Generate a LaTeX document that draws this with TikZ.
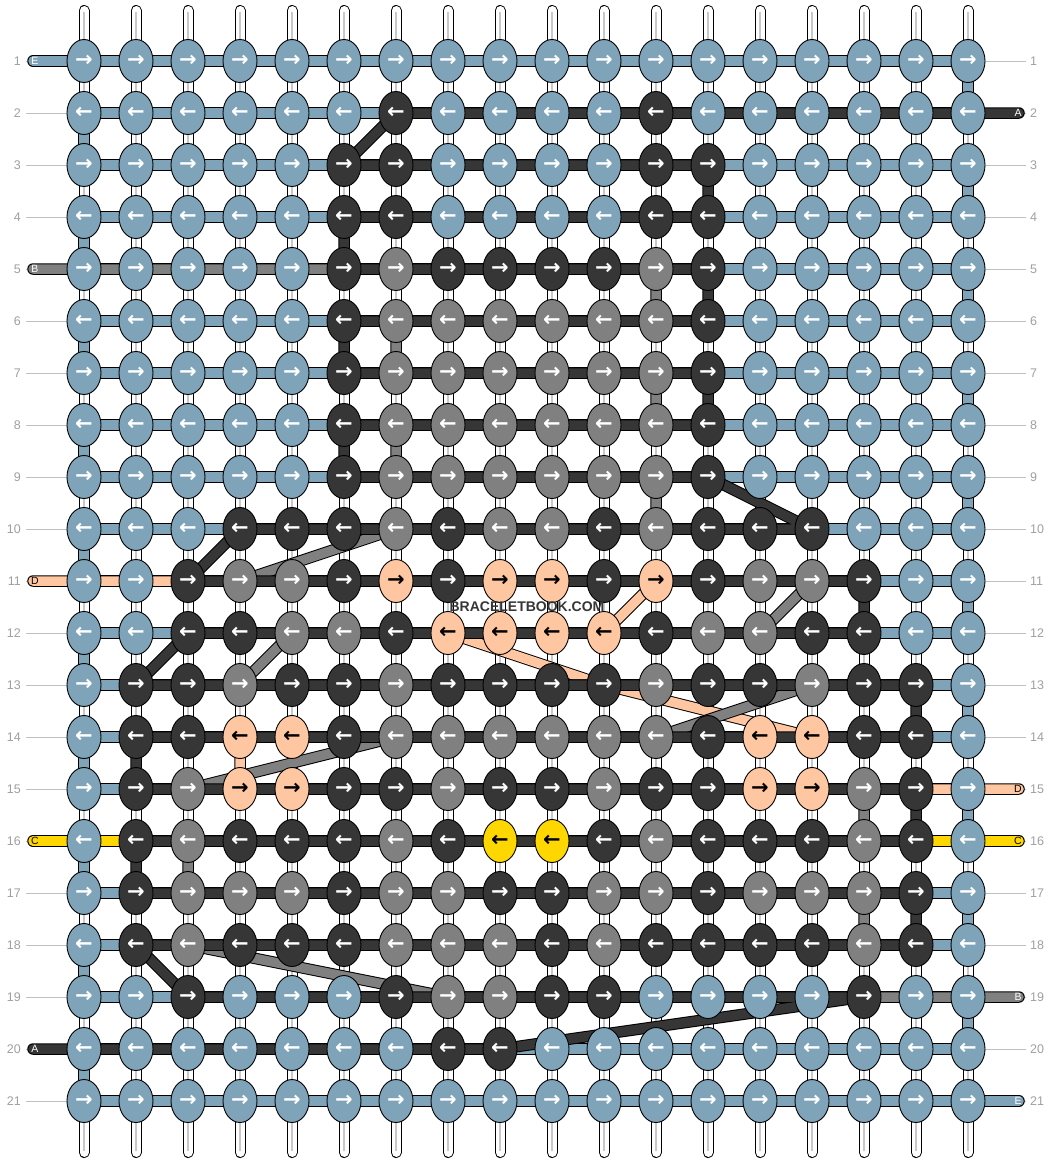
\documentclass[tikz,border=0pt]{standalone}
\usepackage{fontspec}
\setmainfont{Liberation Sans}
\newfontfamily\arrowfont{DejaVu Sans}
\usetikzlibrary{shapes.geometric}
\definecolor{cL}{RGB}{127,163,185}
\definecolor{cD}{RGB}{54,54,54}
\definecolor{cG}{RGB}{128,128,128}
\definecolor{cP}{RGB}{255,199,161}
\definecolor{cY}{RGB}{255,215,0}
\definecolor{cLab}{RGB}{160,160,160}
\definecolor{cGuide}{RGB}{192,192,192}
\definecolor{cStr}{RGB}{200,200,200}
\pgfdeclarelayer{bg}
\pgfdeclarelayer{thr}
\pgfsetlayers{bg,thr,main}
\tikzset{
  knot/.style={ellipse, minimum width=34pt, minimum height=43pt, inner sep=0pt,
    draw=black, line width=0.9pt, font=\arrowfont\bfseries\fontsize{21}{21}\selectfont},
  kL/.style={knot, fill=cL, text=white},
  kD/.style={knot, fill=cD, text=white},
  kG/.style={knot, fill=cG, text=white},
  kP/.style={knot, fill=cP, text=black},
  kY/.style={knot, fill=cY, text=black},
  thread/.style={line width=9.5pt, line join=round, line cap=round,
    preaction={draw=black, line width=11.5pt, line join=round, line cap=round}},
  strand/.style={draw=white, line width=9pt, line cap=round,
    preaction={draw=black, line width=11pt, line cap=round},
    postaction={draw=cStr, line width=1.2pt, line cap=butt, shorten <=2pt, shorten >=2pt}},
  guide/.style={draw=cGuide, line width=0.9pt},
  rowlab/.style={text=cLab, font=\fontsize{12.5}{12.5}\selectfont, inner sep=0pt},
  endlab/.style={font=\fontsize{10.5}{10.5}\selectfont, inner sep=0pt},
  wm/.style={font=\bfseries\fontsize{14}{14}\selectfont, inner sep=0pt}
}
\newcommand\knotrow[3]{%
  \foreach \cc [count=\i] in {#3} {%
    \node[k\cc] (k-#1-\i) at ({84+52*(\i-1)},{61+52*(#1-1)}) {#2};}}
\begin{document}
\begin{tikzpicture}[x=1pt,y=-1pt]
\path[use as bounding box] (0,0) rectangle (1052,1164);

% knots
\knotrow{1}{→}{L,L,L,L,L,L,L,L,L,L,L,L,L,L,L,L,L,L}
\knotrow{2}{←}{L,L,L,L,L,L,D,L,L,L,L,D,L,L,L,L,L,L}
\knotrow{3}{→}{L,L,L,L,L,D,D,L,L,L,L,D,D,L,L,L,L,L}
\knotrow{4}{←}{L,L,L,L,L,D,D,L,L,L,L,D,D,L,L,L,L,L}
\knotrow{5}{→}{L,L,L,L,L,D,G,D,D,D,D,G,D,L,L,L,L,L}
\knotrow{6}{←}{L,L,L,L,L,D,G,G,G,G,G,G,D,L,L,L,L,L}
\knotrow{7}{→}{L,L,L,L,L,D,G,G,G,G,G,G,D,L,L,L,L,L}
\knotrow{8}{←}{L,L,L,L,L,D,G,G,G,G,G,G,D,L,L,L,L,L}
\knotrow{9}{→}{L,L,L,L,L,D,G,G,G,G,G,G,D,L,L,L,L,L}
\knotrow{10}{←}{L,L,L,D,D,D,G,D,G,G,D,G,D,D,D,L,L,L}
\knotrow{11}{→}{L,L,D,G,G,D,P,D,P,P,D,P,D,G,G,D,L,L}
\knotrow{12}{←}{L,L,D,D,G,G,D,P,P,P,P,D,G,G,D,D,L,L}
\knotrow{13}{→}{L,D,D,G,D,D,G,D,D,D,D,G,D,D,G,D,D,L}
\knotrow{14}{←}{L,D,D,P,P,D,G,G,G,G,G,G,D,P,P,D,D,L}
\knotrow{15}{→}{L,D,G,P,P,D,D,G,D,D,G,D,D,P,P,G,D,L}
\knotrow{16}{←}{L,D,G,D,D,D,G,D,Y,Y,D,G,D,D,D,G,D,L}
\knotrow{17}{→}{L,D,G,G,G,D,G,G,D,D,G,G,D,G,G,G,D,L}
\knotrow{18}{←}{L,D,G,D,D,D,G,G,G,D,G,D,D,D,D,G,D,L}
\knotrow{19}{→}{L,L,D,L,L,L,D,G,G,D,D,L,L,L,L,D,L,L}
\knotrow{20}{←}{L,L,L,L,L,L,L,D,D,L,L,L,L,L,L,L,L,L}
\knotrow{21}{→}{L,L,L,L,L,L,L,L,L,L,L,L,L,L,L,L,L,L}

% row numbers
\foreach \r in {1,...,21} {
  \node[rowlab, anchor=east] (nl-\r) at (21,{61+52*(\r-1)}) {\r};
  \node[rowlab, anchor=west] (nr-\r) at (1030,{61+52*(\r-1)}) {\r};
}

% thread end points
\coordinate (eEL) at (33,61);
\coordinate (eER) at (1019,1101);
\coordinate (eAR) at (1019,113);
\coordinate (eAL) at (33,1049);
\coordinate (eBL) at (33,269);
\coordinate (eBR) at (1019,997);
\coordinate (eDL) at (33,581);
\coordinate (eDR) at (1019,789);
\coordinate (eCL) at (33,841);
\coordinate (eCR) at (1019,841);

\begin{pgfonlayer}{bg}
  \fill[white] (0,0) rectangle (1052,1164);
  \foreach \r in {1,...,21} {
    \draw[guide] ([xshift=5pt]nl-\r.east) -- ([xshift=-4pt]nr-\r.west);
  }
  \foreach \c in {1,...,18} {
    \coordinate (sT-\c) at ({84+52*(\c-1)},10.5);
    \coordinate (sB-\c) at ({84+52*(\c-1)},1152.5);
    \draw[strand] (sT-\c) -- (sB-\c);
  }
\end{pgfonlayer}

\begin{pgfonlayer}{thr}
  % E (light blue)
  \draw[thread, draw=cL] (eEL)
    \foreach \r [evaluate=\r as \rn using {int(\r+1)}, evaluate=\r as \rnn using {int(\r+2)}] in {1,3,...,19}
      { -- (k-\r-18.center) -- (k-\rn-18.center) -- (k-\rn-1.center) -- (k-\rnn-1.center) }
    -- (eER);
  % D (peach)
  \draw[thread, draw=cP] (eDL) -- (k-11-12.center) -- (k-12-11.center) -- (k-12-8.center)
    -- (k-13-11.center) -- (k-14-15.center) -- (k-14-4.center) -- (k-15-4.center) -- (eDR);
  % B (grey)
  \draw[thread, draw=cG] (eBL) -- (k-5-12.center) -- (k-6-12.center) -- (k-6-7.center)
    -- (k-7-7.center) -- (k-7-12.center) -- (k-8-12.center) -- (k-8-7.center)
    -- (k-9-7.center) -- (k-9-12.center) -- (k-10-12.center) -- (k-10-7.center)
    -- (k-11-4.center) -- (k-11-15.center) -- (k-12-14.center) -- (k-12-5.center)
    -- (k-13-4.center) -- (k-13-15.center) -- (k-14-12.center) -- (k-14-7.center)
    -- (k-15-3.center) -- (k-15-16.center) -- (k-16-16.center) -- (k-16-3.center)
    -- (k-17-3.center) -- (k-17-16.center) -- (k-18-16.center) -- (k-18-3.center)
    -- (k-19-8.center) -- (eBR);
  % C (yellow)
  \draw[thread, draw=cY] (eCL) -- (eCR);
  % A (dark)
  \draw[thread, draw=cD] (eAR) -- (k-2-7.center) -- (k-3-6.center) -- (k-3-13.center)
    -- (k-4-13.center) -- (k-4-6.center) -- (k-5-6.center) -- (k-5-13.center)
    -- (k-6-13.center) -- (k-6-6.center) -- (k-7-6.center) -- (k-7-13.center)
    -- (k-8-13.center) -- (k-8-6.center) -- (k-9-6.center) -- (k-9-13.center)
    -- (k-10-15.center) -- (k-10-4.center) -- (k-11-3.center) -- (k-11-16.center)
    -- (k-12-16.center) -- (k-12-3.center) -- (k-13-2.center) -- (k-13-17.center)
    -- (k-14-17.center) -- (k-14-2.center) -- (k-15-2.center) -- (k-15-17.center)
    -- (k-16-17.center) -- (k-16-2.center) -- (k-17-2.center) -- (k-17-17.center)
    -- (k-18-17.center) -- (k-18-2.center) -- (k-19-3.center) -- (k-19-16.center)
    -- (k-20-9.center) -- (eAL);
\end{pgfonlayer}

% thread end letters
\node[endlab, text=white] (lE1) at (35,61) {E};
\node[endlab, text=white] (lE2) at (1018,1101) {E};
\node[endlab, text=white] (lA1) at (1018,113) {A};
\node[endlab, text=white] (lA2) at (35,1049) {A};
\node[endlab, text=white] (lB1) at (35,269) {B};
\node[endlab, text=white] (lB2) at (1018,997) {B};
\node[endlab, text=black] (lD1) at (35,581) {D};
\node[endlab, text=black] (lD2) at (1018,789) {D};
\node[endlab, text=black] (lC1) at (35,841) {C};
\node[endlab, text=black] (lC2) at (1018,841) {C};

% watermark
\node[wm, text=cD] (wmark) at (527,607) {BRACELETBOOK.COM};
\end{tikzpicture}
\end{document}
